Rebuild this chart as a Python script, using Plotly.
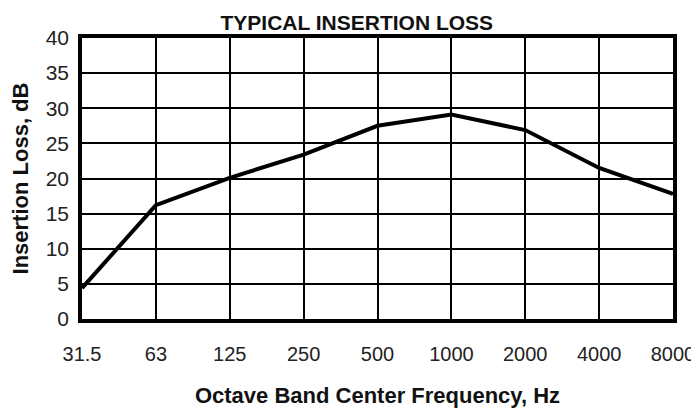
import plotly.graph_objects as go

# Data
frequencies = ["31.5", "63", "125", "250", "500", "1000", "2000", "4000", "8000"]
insertion_loss = [4.4, 16.2, 20.1, 23.4, 27.5, 29.1, 26.9, 21.5, 17.8]
y_ticks = [0, 5, 10, 15, 20, 25, 30, 35, 40]

FONT = "Arial, Liberation Sans, sans-serif"

fig = go.Figure()
fig.add_trace(go.Scatter(
    x=frequencies,
    y=insertion_loss,
    mode="lines",
    line=dict(color="black", width=4),
    showlegend=False,
    hoverinfo="x+y",
))

# The page body has an 8px default margin, so the figure is sized 8px smaller
fig.update_layout(
    width=691,
    height=400,
    margin=dict(l=74, r=26, t=30, b=89, autoexpand=False),
    paper_bgcolor="white",
    plot_bgcolor="white",
    font=dict(family=FONT, color="#111111"),
    title=dict(
        text="<b>TYPICAL INSERTION LOSS</b>",
        font=dict(family=FONT, size=21, color="#111111"),
        x=0.465, xref="paper", xanchor="center",
        y=0.9625, yref="container", yanchor="middle",
    ),
)

fig.update_xaxes(
    type="category",
    categoryorder="array",
    categoryarray=frequencies,
    range=[0, len(frequencies) - 1],
    automargin=False,
    showgrid=True,
    gridcolor="black",
    gridwidth=2,
    showline=True,
    linecolor="black",
    linewidth=3.5,
    mirror=True,
    ticks="",
    ticklabelstandoff=14,
    tickfont=dict(family=FONT, size=20, color="#222222"),
    title=dict(
        text="<b>Octave Band Center Frequency, Hz</b>",
        font=dict(family=FONT, size=22, color="#111111"),
        standoff=25,
    ),
    zeroline=False,
)

fig.update_yaxes(
    range=[0, 40],
    tickvals=y_ticks,
    automargin=False,
    showgrid=True,
    gridcolor="black",
    gridwidth=2,
    showline=True,
    linecolor="black",
    linewidth=3.5,
    mirror=True,
    ticks="",
    ticklabelstandoff=5,
    tickfont=dict(family=FONT, size=21, color="#222222"),
    title=dict(
        text="<b>Insertion Loss, dB</b>",
        font=dict(family=FONT, size=22, color="#111111"),
        standoff=15,
    ),
    zeroline=False,
)

fig.write_html("out.html")
